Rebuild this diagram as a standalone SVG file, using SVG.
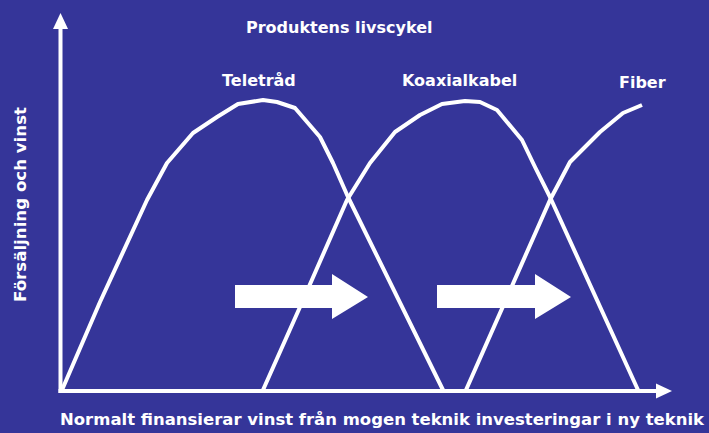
<svg xmlns="http://www.w3.org/2000/svg" width="709" height="433" viewBox="0 0 709 433">
  <style>
    .t { font-family: "DejaVu Sans", Verdana, sans-serif; font-weight: bold; font-size: 16px; fill: #ffffff; }
    .axis { stroke: #ffffff; stroke-width: 4; fill: none; }
    .curve { stroke: #ffffff; stroke-width: 4; fill: none; stroke-linejoin: round; stroke-linecap: butt; }
    .block { fill: #ffffff; }
  </style>
  <defs>
    <marker id="ah" markerUnits="userSpaceOnUse" markerWidth="16" markerHeight="16" viewBox="0 0 16 16" refX="0" refY="8" orient="auto">
      <path d="M0,0.5 L16,8 L0,15.5 Z" fill="#ffffff"/>
    </marker>
  </defs>
  <rect width="709" height="433" fill="#353599"/>

  <g id="connectors">
    <line class="axis" x1="60.5" y1="393" x2="60.5" y2="29" marker-end="url(#ah)"/>
    <line class="axis" x1="58.5" y1="391" x2="656" y2="391" marker-end="url(#ah)"/>
  </g>

  <g id="title">
    <text class="t" x="246" y="33">Produktens livscykel</text>
  </g>
  <g id="y-label">
    <text class="t" transform="translate(26,302) rotate(-90)" textLength="195" lengthAdjust="spacingAndGlyphs">Försäljning och vinst</text>
  </g>
  <g id="x-label">
    <text class="t" x="60" y="425" textLength="644" lengthAdjust="spacingAndGlyphs">Normalt finansierar vinst från mogen teknik investeringar i ny teknik</text>
  </g>

  <g id="teletrad">
    <polyline class="curve" points="62,390 100,302 147,200 167,163 193,133 217,117 238,104 263,100 277,102 295,108 320,137 333,163 348,197 443,390"/>
    <text class="t" x="222" y="86">Teletråd</text>
  </g>
  <g id="koaxialkabel">
    <polyline class="curve" points="263,390 300,307 347,200 370,163 395,132 420,115 442,104 465,101 480,102 497,110 522,140 535,167 550,197 638,390"/>
    <text class="t" x="402" y="86">Koaxialkabel</text>
  </g>
  <g id="fiber">
    <polyline class="curve" points="466,390 550,200 570,162 600,132 623,113 642,105"/>
    <text class="t" x="619" y="88">Fiber</text>
  </g>

  <g id="arrow1">
    <polygon class="block" points="235,285 332,285 332,274 368,297 332,319 332,308 235,308"/>
  </g>
  <g id="arrow2">
    <polygon class="block" points="437,285 535,285 535,274 571,297 535,319 535,308 437,308"/>
  </g>
</svg>
